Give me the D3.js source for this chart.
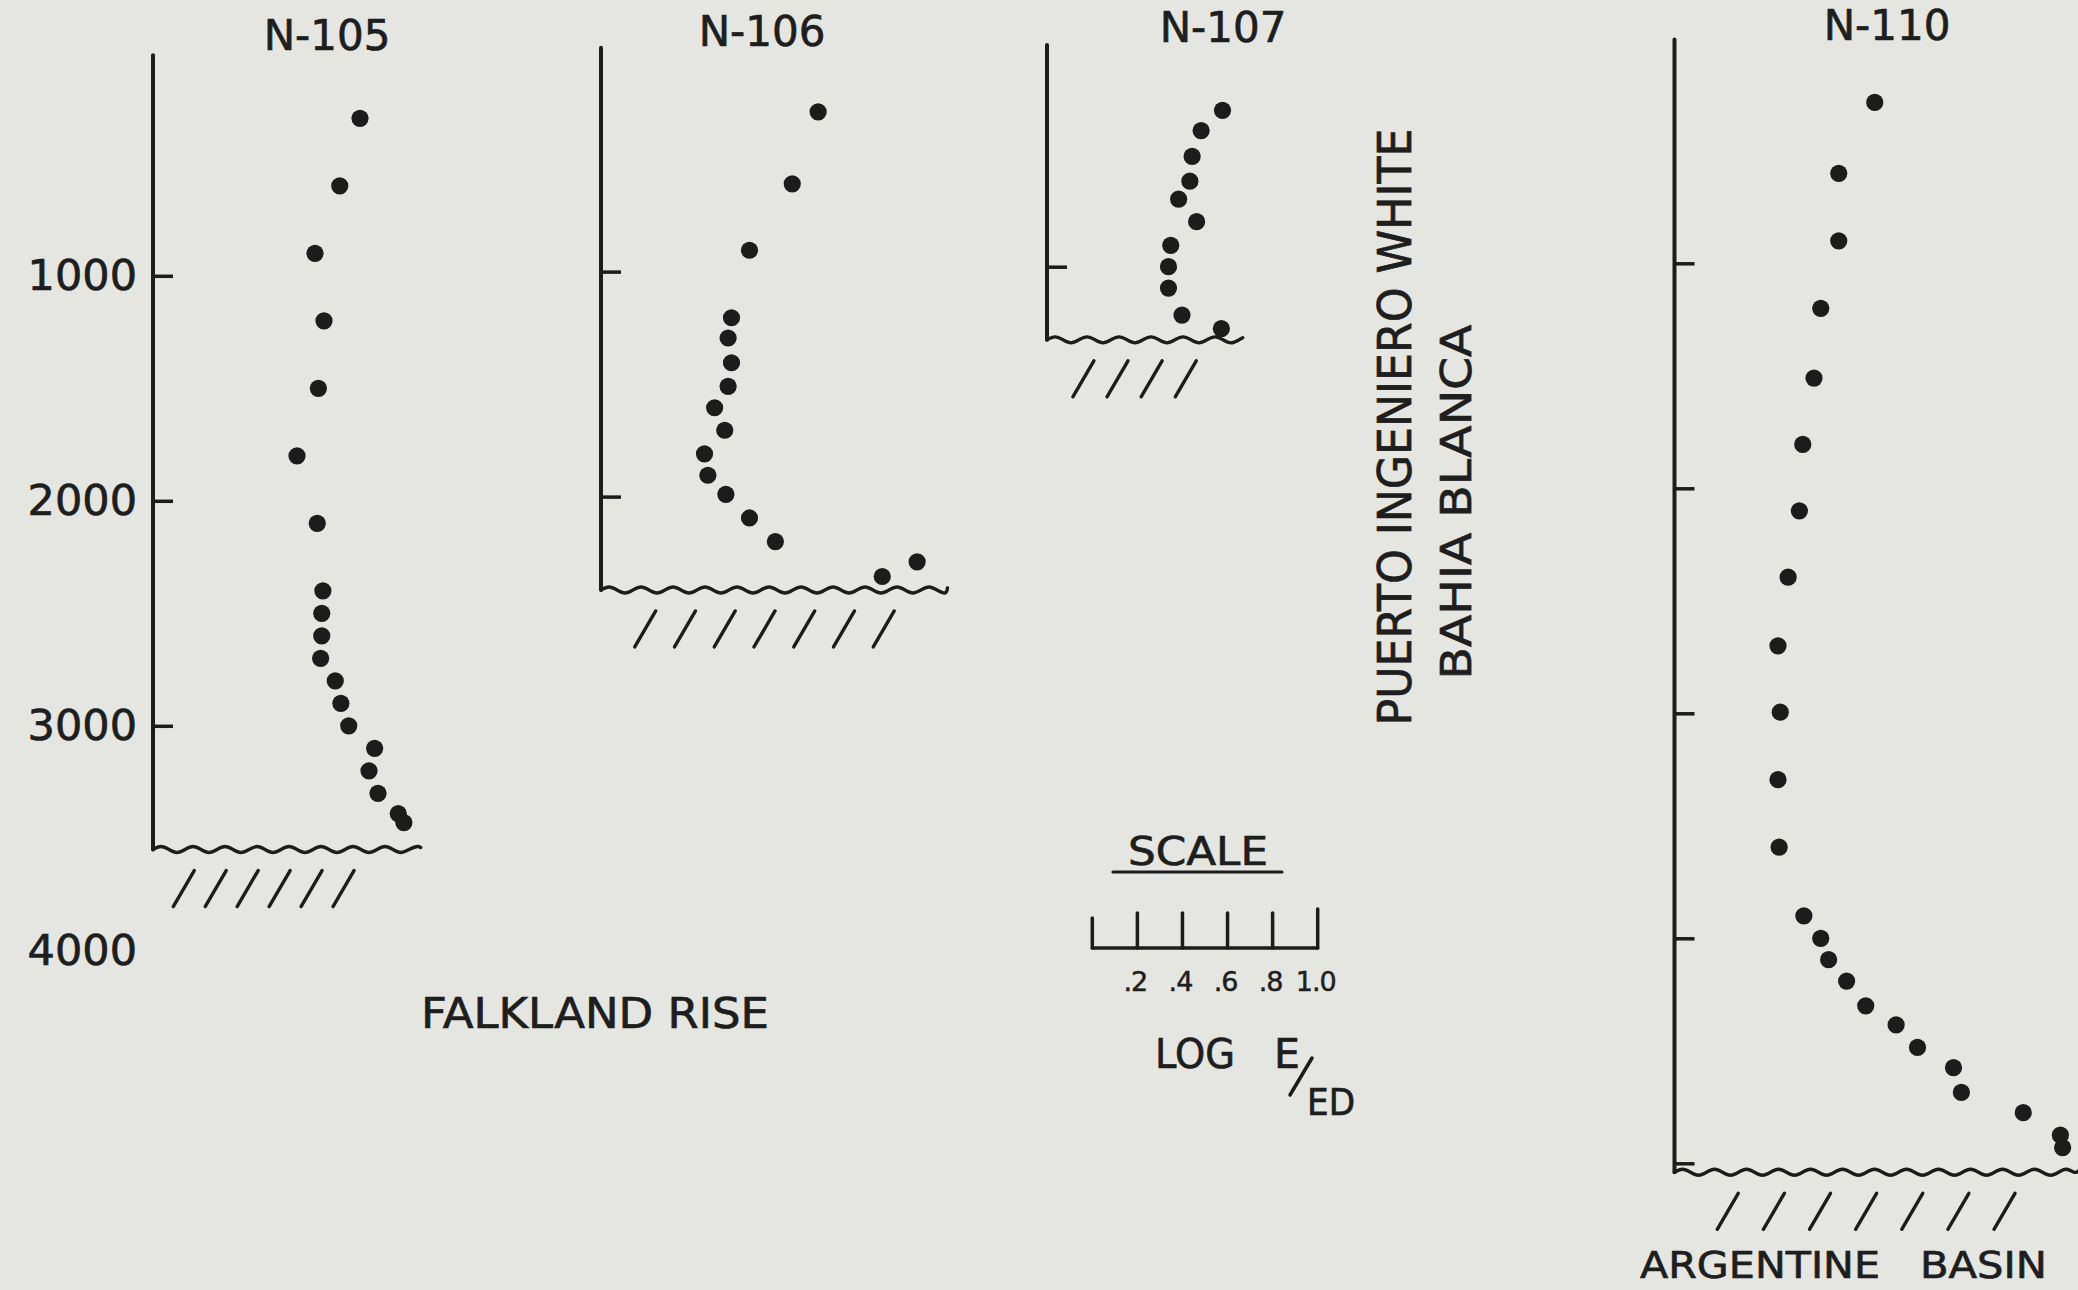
<!DOCTYPE html>
<html>
<head>
<meta charset="utf-8">
<script src="https://cdn.jsdelivr.net/npm/d3@7"></script>
<style>
  html, body { margin: 0; padding: 0; background: #e5e6e1; }
  svg { display: block; }
  text { font-family: "DejaVu Sans", sans-serif; fill: #1e1e1e; stroke: #1e1e1e; stroke-width: 0.7px; }
</style>
</head>
<body>
<svg id="chart" width="2078" height="1290"></svg>
<script>
// ---- Data -------------------------------------------------------------
const stations = ["N-105", "N-106", "N-107", "N-110"];
const floorDepth = [3550, 2415, 1325, 5040];          // sea floor depth (m)
const depthTicks = [[1000, 2000, 3000], [1000, 2000], [1000], [1000, 2000, 3000, 4000, 5000]];
const depthLabels = [1000, 2000, 3000, 4000];
const scaleTicks = [0, 0.2, 0.4, 0.6, 0.8, 1.0];
const scaleTickLabels = ["", ".2", ".4", ".6", ".8", "1.0"];

// depth (m) and log E/Ed for each station
const n105Depth = [300, 600, 900, 1200, 1500, 1800, 2100, 2400, 2500, 2600, 2700, 2800, 2900, 3000, 3100, 3200, 3300, 3390, 3430];
const n105LogE  = [0.92, 0.83, 0.72, 0.76, 0.735, 0.64, 0.73, 0.755, 0.75, 0.75, 0.745, 0.81, 0.835, 0.87, 0.985, 0.96, 1.0, 1.09, 1.115];

const n106Depth = [290, 610, 905, 1205, 1295, 1405, 1510, 1605, 1705, 1810, 1905, 1990, 2095, 2200, 2355, 2290];
const n106LogE  = [0.965, 0.85, 0.66, 0.58, 0.565, 0.58, 0.565, 0.505, 0.55, 0.46, 0.475, 0.555, 0.66, 0.775, 1.25, 1.405];

const n107Depth = [305, 395, 510, 620, 700, 800, 905, 1000, 1095, 1215, 1275];
const n107LogE  = [0.78, 0.685, 0.645, 0.635, 0.585, 0.665, 0.55, 0.54, 0.54, 0.60, 0.775];

const n110Depth = [285, 600, 900, 1200, 1510, 1805, 2100, 2395, 2700, 2995, 3295, 3595, 3900, 4000, 4095, 4190, 4300, 4385, 4485, 4575, 4685, 4775, 4875, 4930];
const n110LogE  = [0.89, 0.73, 0.73, 0.65, 0.62, 0.57, 0.555, 0.505, 0.46, 0.47, 0.46, 0.465, 0.575, 0.65, 0.685, 0.765, 0.85, 0.985, 1.08, 1.24, 1.275, 1.55, 1.715, 1.725];

const profiles = [
  { depth: n105Depth, logE: n105LogE },
  { depth: n106Depth, logE: n106LogE },
  { depth: n107Depth, logE: n107LogE },
  { depth: n110Depth, logE: n110LogE }
];

// ---- Layout -----------------------------------------------------------
const INK = "#1c1c1c";
const PX = 225;   // pixels per 1000 m and per 1.0 log unit

const layout = [
  { x0: 153,    y0: 50.8, top: 20, floorEnd: 1.19, hatch: [0.09, 0.80, 6],  titleX: 327,  titleY: 49.5 },
  { x0: 601,    y0: 46.6, top: 5,  floorEnd: 1.54, hatch: [0.15, 1.21, 7],  titleX: 762,  titleY: 45.5 },
  { x0: 1047,   y0: 41.7, top: 15, floorEnd: 0.87, hatch: [0.115, 0.57, 4], titleX: 1223, titleY: 41.5 },
  { x0: 1674.5, y0: 38.3, top: 5,  floorEnd: 1.80, hatch: [0.19, 1.42, 7],  titleX: 1887, titleY: 39.5 }
];

const svg = d3.select("#chart");

// gently undulating sea-floor line
function wavyLine(xa, xb, y) {
  const pts = [];
  const step = 8, amp = 3;
  const pattern = [0, -amp, 0, amp];
  let i = 0;
  for (let x = xa; x <= xb; x += step, i++) pts.push([x, y + pattern[i % 4]]);
  pts.push([xb, y - 2]);
  return d3.line().curve(d3.curveNatural)(pts);
}

stations.forEach((name, k) => {
  const L = layout[k];
  const y = d3.scaleLinear().domain([0, 1000]).range([L.y0, L.y0 + PX]);
  const x = d3.scaleLinear().domain([0, 1]).range([L.x0, L.x0 + PX]);
  const g = svg.append("g").attr("class", "station");
  const yFloor = y(floorDepth[k]);

  // vertical depth axis
  g.append("line")
    .attr("x1", L.x0).attr("x2", L.x0)
    .attr("y1", y(L.top)).attr("y2", yFloor)
    .attr("stroke", INK).attr("stroke-width", 4).attr("stroke-linecap", "round");

  const ax = g.append("g")
    .attr("transform", `translate(${L.x0},0)`)
    .call(d3.axisRight(y).tickValues(depthTicks[k]).tickSize(20).tickFormat(""));
  ax.select(".domain").remove();
  ax.selectAll(".tick line").attr("stroke", INK).attr("stroke-width", 3.5);

  // sea floor
  g.append("path")
    .attr("d", wavyLine(L.x0, x(L.floorEnd), yFloor))
    .attr("fill", "none").attr("stroke", INK)
    .attr("stroke-width", 3.4).attr("stroke-linecap", "round").attr("stroke-linejoin", "round");

  // sediment hatching below the floor
  const [ha, hb, hn] = L.hatch;
  d3.range(hn).forEach(i => {
    const xb = x(ha + i * (hb - ha) / (hn - 1));
    g.append("line")
      .attr("x1", xb).attr("y1", yFloor + 57)
      .attr("x2", xb + 21).attr("y2", yFloor + 21)
      .attr("stroke", INK).attr("stroke-width", 3.4).attr("stroke-linecap", "round");
  });

  // observations
  const p = profiles[k];
  g.selectAll("circle.obs")
    .data(p.depth.map((d, i) => ({ depth: d, logE: p.logE[i] })))
    .join("circle")
    .attr("class", "obs")
    .attr("cx", d => x(d.logE))
    .attr("cy", d => y(d.depth))
    .attr("r", 8.6)
    .attr("fill", INK);

  // station title
  g.append("text")
    .attr("x", L.titleX).attr("y", L.titleY)
    .attr("text-anchor", "middle")
    .attr("font-size", 42)
    .text(name);

  // shared depth labels on the first profile
  if (k === 0) {
    const lab = svg.append("g")
      .attr("transform", `translate(${L.x0},0)`)
      .call(d3.axisLeft(y).tickValues(depthLabels).tickSize(0).tickPadding(16).tickFormat(d3.format("d")));
    lab.select(".domain").remove();
    lab.selectAll("text")
      .attr("font-family", "DejaVu Sans, sans-serif")
      .attr("font-size", 43)
      .attr("fill", "#1e1e1e");
  }
});

// ---- Scale bar --------------------------------------------------------
const sx = d3.scaleLinear().domain([0, 1]).range([1092.3, 1317.7]);
const barY = 948;
const bar = svg.append("g");
bar.append("line")
  .attr("x1", sx(0)).attr("x2", sx(1)).attr("y1", barY).attr("y2", barY)
  .attr("stroke", INK).attr("stroke-width", 3.5).attr("stroke-linecap", "round");
bar.selectAll("line.tk")
  .data(scaleTicks)
  .join("line")
  .attr("class", "tk")
  .attr("x1", d => sx(d)).attr("x2", d => sx(d))
  .attr("y1", barY).attr("y2", (d, i) => barY - (i === 0 ? 30 : i === scaleTicks.length - 1 ? 39 : 35))
  .attr("stroke", INK).attr("stroke-width", 3.5).attr("stroke-linecap", "round");
bar.selectAll("text.tl")
  .data(scaleTicks)
  .join("text")
  .attr("class", "tl")
  .attr("x", d => sx(d) - 2)
  .attr("y", 991)
  .attr("text-anchor", "middle")
  .attr("font-size", 27)
  .attr("letter-spacing", -1)
  .style("stroke-width", "0.5px")
  .text((d, i) => scaleTickLabels[i]);

svg.append("text").attr("x", 1128).attr("y", 865)
  .attr("font-size", 39).attr("textLength", 140).attr("lengthAdjust", "spacingAndGlyphs")
  .text("SCALE");
svg.append("line").attr("x1", 1113).attr("x2", 1282).attr("y1", 872).attr("y2", 872)
  .attr("stroke", INK).attr("stroke-width", 3.2).attr("stroke-linecap", "round");

svg.append("text").attr("x", 1155).attr("y", 1068)
  .attr("font-size", 41).attr("textLength", 80).attr("lengthAdjust", "spacingAndGlyphs")
  .text("LOG");
svg.append("text").attr("x", 1274).attr("y", 1068)
  .attr("font-size", 41).text("E");
svg.append("line").attr("x1", 1290).attr("y1", 1095).attr("x2", 1312).attr("y2", 1058)
  .attr("stroke", INK).attr("stroke-width", 3.5).attr("stroke-linecap", "round");
svg.append("text").attr("x", 1307).attr("y", 1115)
  .attr("font-size", 37).attr("textLength", 48).attr("lengthAdjust", "spacingAndGlyphs")
  .text("ED");

// ---- Place names -------------------------------------------------------
svg.append("text").attr("x", 421).attr("y", 1028)
  .attr("font-size", 43).attr("textLength", 348).attr("lengthAdjust", "spacingAndGlyphs")
  .text("FALKLAND RISE");

svg.append("text")
  .attr("transform", "translate(1411,427) rotate(-90)")
  .attr("text-anchor", "middle")
  .attr("font-size", 47).attr("textLength", 597).attr("lengthAdjust", "spacingAndGlyphs")
  .text("PUERTO INGENIERO WHITE");
svg.append("text")
  .attr("transform", "translate(1471,502) rotate(-90)")
  .attr("text-anchor", "middle")
  .attr("font-size", 42).attr("textLength", 355).attr("lengthAdjust", "spacingAndGlyphs")
  .text("BAHIA BLANCA");

svg.append("text").attr("x", 1640).attr("y", 1278)
  .attr("font-size", 38).attr("textLength", 240).attr("lengthAdjust", "spacingAndGlyphs")
  .text("ARGENTINE");
svg.append("text").attr("x", 1920).attr("y", 1278)
  .attr("font-size", 38).attr("textLength", 127).attr("lengthAdjust", "spacingAndGlyphs")
  .text("BASIN");
</script>
</body>
</html>
